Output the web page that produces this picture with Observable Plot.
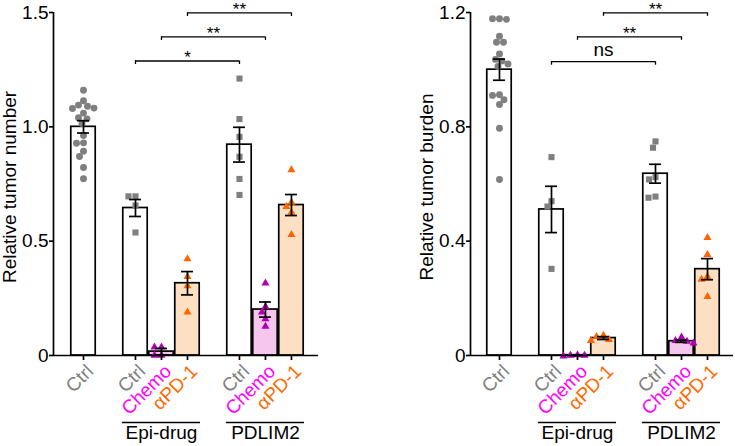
<!DOCTYPE html>
<html><head><meta charset="utf-8">
<script src="https://cdn.jsdelivr.net/npm/d3@7"></script>
<script src="https://cdn.jsdelivr.net/npm/@observablehq/plot@0.6"></script>
<style>
body{margin:0;background:#fff;font-family:"Liberation Sans",Arial,sans-serif;}
#wrap{display:flex;width:735px;height:446px;overflow:hidden;}
</style></head><body><div id="wrap"></div>
<script>
// ---- data ----
const labels = ["Ctrl","Ctrl","Chemo","αPD-1","Ctrl","Chemo","αPD-1"];
const groupOf = ["", "Epi-drug","Epi-drug","Epi-drug","PDLIM2","PDLIM2","PDLIM2"];
const groupNames = ["Epi-drug","PDLIM2"];

const numberMean = [1.0, 0.645, 0.017, 0.316, 0.922, 0.201, 0.658];
const numberSem  = [0.027, 0.037, 0.014, 0.051, 0.076, 0.033, 0.046];
const numberPoints = [
  [1.160,1.114,1.095,1.090,1.082,1.080,1.060,1.040,1.035,1.015,0.962,0.930,0.928,0.893,0.870,0.822,0.773],
  [0.696,0.696,0.656,0.538],
  [0.036,0.036,0.0,0.0],
  [0.422,0.345,0.304,0.189],
  [1.211,1.034,0.956,0.869,0.772,0.702],
  [0.316,0.214,0.189,0.160,0.127],
  [0.812,0.670,0.651,0.626,0.528]
];
const numberTicks = [0, 0.5, 1.0, 1.5];
const numberTickLabels = ["0","0.5","1.0","1.5"];
const numberBrackets = [[1,4,"*"],[2,5,"**"],[3,6,"**"]];
const numberBracketLevels = [1.288, 1.393, 1.498];

const burdenMean = [1.0, 0.511, 0.001, 0.061, 0.636, 0.050, 0.302];
const burdenSem  = [0.037, 0.081, 0.001, 0.005, 0.033, 0.004, 0.037];
const burdenPoints = [
  [1.178,1.178,1.176,1.117,1.096,1.096,1.055,1.036,1.030,1.020,1.011,0.912,0.910,0.895,0.878,0.795,0.616],
  [0.694,0.540,0.521,0.303],
  [0.002,0.0,0.0,-0.002],
  [0.070,0.066,0.055,0.052],
  [0.749,0.727,0.624,0.616,0.556,0.552],
  [0.064,0.052,0.049,0.043],
  [0.412,0.353,0.276,0.266,0.206]
];
const burdenTicks = [0, 0.4, 0.8, 1.2];
const burdenTickLabels = ["0","0.4","0.8","1.2"];
const burdenBrackets = [[1,4,"ns"],[2,5,"**"],[3,6,"**"]];
const burdenBracketLevels = [1.028, 1.115, 1.199];

// ---- styling ----
const labelColor = {"Ctrl":"#808080","Chemo":"#ff00ff","αPD-1":"#ff6a00"};
const barFill = {"Ctrl":"#ffffff","Chemo":"#f7c6ee","αPD-1":"#fde0c4"};
const dotFill = {"Ctrl":"#7f7f7f","Chemo":"#b000b0","αPD-1":"#ff6400"};

// slot positions: one empty slot between groups
const slots = [];
{ let s = 0; groupOf.forEach((g,i)=>{ if (i>0 && g!==groupOf[i-1]) s++; slots.push(s); s++; }); }

const H = 446, MT = 12, MB = 91, FS = 19;

function swarm(vals, kx, ky, sep) {
  const placed = [], off = new Array(vals.length);
  const order = vals.map((v,i)=>i).sort((a,b)=>vals[b]-vals[a]);
  for (const i of order) {
    const py = vals[i]*ky;
    for (let k=0;;k++) {
      const c = k===0 ? 0 : (k%2 ? -1 : 1)*Math.ceil(k/2)*0.5;
      if (placed.every(p => Math.hypot(p.x-c, p.y-py) >= sep)) { placed.push({x:c,y:py}); off[i]=c; break; }
    }
  }
  return off.map(o=>o/kx);
}

function chart({means, sems, points, ticks, tickLabels, yMax, ylabel, brackets, levels, width, ml, mr, xDomain}) {
  const ky = (H-MT-MB)/yMax;
  const kx = (width-ml-mr)/(xDomain[1]-xDomain[0]);
  const bars = labels.map((l,i)=>({label:l, group:groupOf[i], slot:slots[i], mean:means[i], sem:sems[i]}));
  const pts = [];
  points.forEach((vals,i)=>{
    const off = swarm(vals, kx, ky, 6.6);
    vals.forEach((v,j)=>pts.push({x: slots[i]+off[j], v, label: labels[i],
      symbol: i===0 ? "circle" : labels[i]==="Ctrl" ? "square" : "triangle"}));
  });
  const grp = groupNames.map(g=>{
    const s = bars.filter(b=>b.group===g).map(b=>b.slot);
    return {name:g, x1:d3.min(s)-0.5, x2:d3.max(s)+0.5, xm:(d3.min(s)+d3.max(s))/2};
  });
  const br = brackets.map(([a,b,t],i)=>({x1:slots[a], x2:slots[b], xm:(slots[a]+slots[b])/2, y:levels[i], t}));
  const brEnds = br.flatMap(d=>[{x:d.x1,y:d.y},{x:d.x2,y:d.y}]);
  const tl = 3.5/ky;
  const sw = 1.7;
  return Plot.plot({
    width, height:H, marginTop:MT, marginBottom:MB, marginLeft:ml, marginRight:mr,
    style:{fontFamily:"Liberation Sans, Arial, sans-serif", fontSize:FS+"px", color:"#000", background:"#fff", overflow:"visible"},
    x:{type:"linear", domain:xDomain, axis:null},
    y:{domain:[0,yMax], axis:null},
    marks:[
      Plot.rect(bars, {x1:d=>d.slot-0.47, x2:d=>d.slot+0.47, y1:0, y2:"mean", fill:d=>barFill[d.label], stroke:"#000", strokeWidth:sw}),
      Plot.dot(pts, {x:"x", y:"v", symbol:"symbol", fill:d=>dotFill[d.label], r:d=>d.symbol==="triangle"?2.8:3.7, stroke:null}),
      Plot.ruleX(bars, {x:"slot", y1:d=>d.mean-d.sem, y2:d=>d.mean+d.sem, stroke:"#000", strokeWidth:sw}),
      Plot.ruleY(bars, {y:d=>d.mean+d.sem, x1:d=>d.slot-0.23, x2:d=>d.slot+0.23, stroke:"#000", strokeWidth:sw}),
      Plot.ruleY(bars, {y:d=>d.mean-d.sem, x1:d=>d.slot-0.23, x2:d=>d.slot+0.23, stroke:"#000", strokeWidth:sw}),
      // axes
      Plot.ruleY([0], {stroke:"#000", strokeWidth:sw}),
      Plot.ruleX([xDomain[0]], {y1:0, y2:yMax, stroke:"#000", strokeWidth:sw}),
      Plot.axisY({ticks, tickFormat:d=>tickLabels[ticks.indexOf(d)], tickSize:4, tickPadding:1, fontSize:FS, label:null, strokeWidth:sw}),
      Plot.axisX({ticks:slots, tickFormat:()=>"", tickSize:5, label:null, strokeWidth:sw}),
      Plot.text([ylabel], {text:d=>d, frameAnchor:"left", rotate:-90, textAnchor:"middle", lineAnchor:"bottom", dx:-38, dy:3, fontSize:FS}),
      // x labels
      Plot.text(bars, {x:"slot", text:"label", frameAnchor:"bottom", rotate:-45, textAnchor:"end", lineAnchor:"bottom", dx:11, dy:17, fill:d=>labelColor[d.label], fontSize:FS}),
      // group lines
      Plot.ruleY(grp, {y:0, x1:"x1", x2:"x2", dy:67, stroke:"#000", strokeWidth:sw}),
      Plot.text(grp, {x:"xm", text:"name", frameAnchor:"bottom", dy:83, fontSize:FS}),
      // significance brackets
      Plot.ruleY(br, {y:"y", x1:"x1", x2:"x2", stroke:"#000", strokeWidth:1.3}),
      Plot.ruleX(brEnds, {x:"x", y1:"y", y2:d=>d.y-tl, stroke:"#000", strokeWidth:1.3}),
      Plot.text(br.filter(d=>d.t!=="ns"), {x:"xm", y:"y", text:"t", lineAnchor:"bottom", dy:2, fontSize:17}),
      Plot.text(br.filter(d=>d.t==="ns"), {x:"xm", y:"y", text:"t", lineAnchor:"bottom", dy:-6, fontSize:FS})
    ]
  });
}

const wrap = document.getElementById("wrap");
wrap.appendChild(chart({means:numberMean, sems:numberSem, points:numberPoints, ticks:numberTicks, tickLabels:numberTickLabels,
  yMax:1.5, ylabel:"Relative tumor number", brackets:numberBrackets, levels:numberBracketLevels,
  width:367, ml:53, mr:49, xDomain:[-1.154, 9.04]}));
wrap.appendChild(chart({means:burdenMean, sems:burdenSem, points:burdenPoints, ticks:burdenTicks, tickLabels:burdenTickLabels,
  yMax:1.2, ylabel:"Relative tumor burden", brackets:burdenBrackets, levels:burdenBracketLevels,
  width:368, ml:103, mr:2, xDomain:[-1.115, 9.0]}));
</script></body></html>
